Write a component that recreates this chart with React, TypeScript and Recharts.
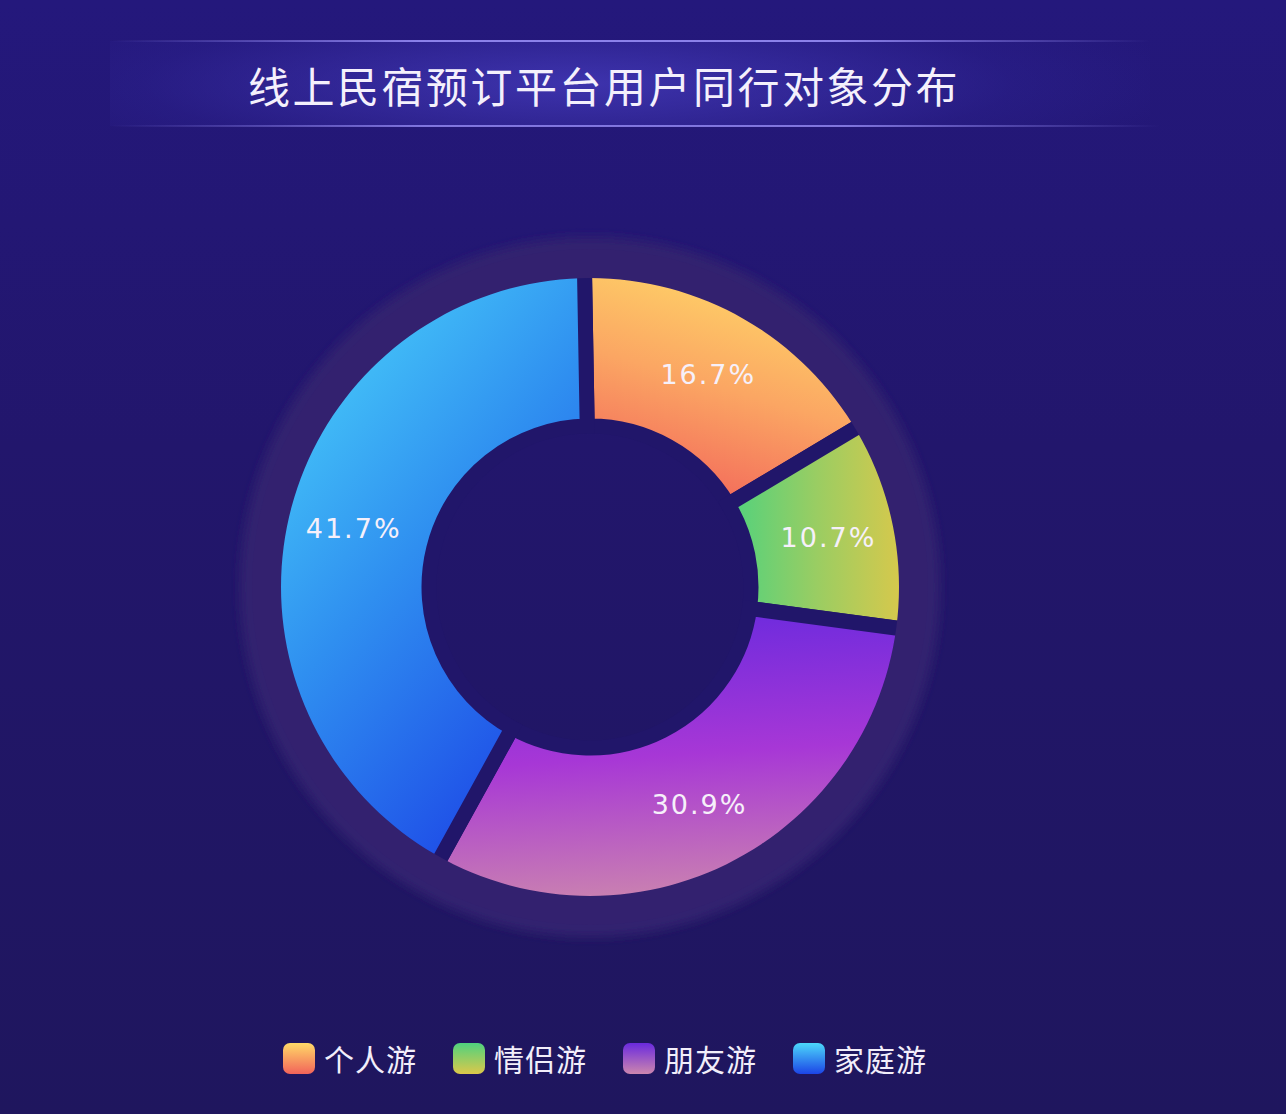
import { Cell, Legend, Pie, PieChart } from "recharts";

const categories = ["个人游", "情侣游", "朋友游", "家庭游"];
const shares = [16.7, 10.7, 30.9, 41.7];
const title = "线上民宿预订平台用户同行对象分布";

const gradients = [
  { id: "g-solo", x1: 0.65, y1: 0, x2: 0.3, y2: 1, stops: ["#ffda68", "#fba663", "#f2635a"] },
  { id: "g-couple", x1: 0, y1: 0.5, x2: 1, y2: 0.5, stops: ["#4fd27e", "#9bcd62", "#dcc84a"] },
  { id: "g-friends", x1: 0.4, y1: 0, x2: 0.5, y2: 1, stops: ["#6a2ade", "#a737d6", "#cc86ae"] },
  { id: "g-family", x1: 0.1, y1: 0, x2: 0.7, y2: 1, stops: ["#4cd8fb", "#2f8ff0", "#1c44e6"] },
];

const BG = "#21166a";
const RING = "#33216f";
const CX = 590;
const CY = 587;

const data = categories.map((name, i) => ({ name, value: shares[i] }));
const ring = [{ name: "ring", value: 1 }];

const RAD = Math.PI / 180;

function renderLabel(props: any) {
  const { innerRadius, outerRadius, midAngle, value } = props;
  const r = (innerRadius + outerRadius) / 2 + 4;
  const x = CX + r * Math.cos(-midAngle * RAD);
  const y = CY + r * Math.sin(-midAngle * RAD);
  return (
    <text
      x={x}
      y={y}
      fill="#f6f0fa"
      fontSize={27}
      fontFamily="DejaVu Sans, sans-serif"
      letterSpacing={2}
      textAnchor="middle"
      dominantBaseline="central"
    >
      {Number(value).toFixed(1)}%
    </text>
  );
}

function LegendContent({ payload }: any) {
  const items = (payload || [])
    .filter((p: any) => categories.includes(p.value))
    .sort((a: any, b: any) => categories.indexOf(a.value) - categories.indexOf(b.value));
  return (
    <div style={{ display: "flex", fontFamily: "'Noto Sans CJK SC', sans-serif" }}>
      {items.map((p: any) => {
        const g = gradients[categories.indexOf(p.value)];
        return (
          <div key={p.value} style={{ display: "flex", alignItems: "center", width: 170 }}>
            <div
              style={{
                width: 32,
                height: 31,
                borderRadius: 7,
                background: `linear-gradient(180deg, ${g.stops[0]}, ${g.stops[2]})`,
                marginRight: 9,
              }}
            />
            <span style={{ color: "#f2eefa", fontSize: 30, letterSpacing: 1 }}>{p.value}</span>
          </div>
        );
      })}
    </div>
  );
}

export default function App() {
  return (
    <div
      style={{
        position: "absolute",
        left: 0,
        top: 0,
        width: 1286,
        height: 1114,
        overflow: "hidden",
        background: "linear-gradient(180deg, #24187c 0%, #22166c 40%, #1f165e 100%)",
      }}
    >
      {/* title band */}
      <div
        style={{
          position: "absolute",
          left: 110,
          top: 41,
          width: 1040,
          height: 85,
          background:
            "radial-gradient(ellipse 60% 120% at 45% 50%, rgba(70,60,190,0.75), rgba(50,40,160,0.25) 70%, rgba(40,30,140,0) 100%)",
        }}
      />
      <div
        style={{
          position: "absolute",
          left: 110,
          top: 40,
          width: 1040,
          height: 2,
          background:
            "linear-gradient(90deg, rgba(140,130,240,0), rgba(150,140,245,0.9) 30%, rgba(150,140,245,0.9) 70%, rgba(140,130,240,0))",
        }}
      />
      <div
        style={{
          position: "absolute",
          left: 110,
          top: 125,
          width: 1050,
          height: 2,
          background:
            "linear-gradient(90deg, rgba(140,130,240,0), rgba(150,140,245,0.8) 30%, rgba(150,140,245,0.8) 70%, rgba(140,130,240,0))",
        }}
      />
      <div
        style={{
          position: "absolute",
          left: 248,
          top: 56,
          color: "#f4f0fc",
          fontSize: 42,
          letterSpacing: 2.5,
          lineHeight: "58px",
          fontFamily: "'Noto Sans CJK SC', sans-serif",
          whiteSpace: "nowrap",
        }}
      >
        {title}
      </div>

      <div style={{ position: "absolute", left: 0, top: 0 }}>
        <PieChart width={1286} height={1114} margin={{ top: 0, right: 0, bottom: 0, left: 0 }}>
          <defs>
            {gradients.map((g) => (
              <linearGradient key={g.id} id={g.id} x1={g.x1} y1={g.y1} x2={g.x2} y2={g.y2}>
                <stop offset="0%" stopColor={g.stops[0]} />
                <stop offset="50%" stopColor={g.stops[1]} />
                <stop offset="100%" stopColor={g.stops[2]} />
              </linearGradient>
            ))}
            <filter id="soft" x="-20%" y="-20%" width="140%" height="140%">
              <feGaussianBlur stdDeviation="5" />
            </filter>
          </defs>
          {/* soft glow behind */}
          <Pie
            data={ring}
            dataKey="value"
            cx={CX}
            cy={CY}
            innerRadius={300}
            outerRadius={350}
            stroke="none"
            fill={RING}
            filter="url(#soft)"
            isAnimationActive={false}
            legendType="none"
          />
          <Pie
            data={data}
            dataKey="value"
            nameKey="name"
            cx={CX}
            cy={CY}
            innerRadius={161}
            outerRadius={318}
            startAngle={91}
            endAngle={-269}
            stroke={BG}
            strokeWidth={15}
            label={renderLabel}
            labelLine={false}
            isAnimationActive={false}
          >
            {data.map((d, i) => (
              <Cell key={d.name} fill={`url(#${gradients[i].id})`} />
            ))}
          </Pie>
          {/* ring band covering the outer stroke of the slices */}
          <Pie
            data={ring}
            dataKey="value"
            cx={CX}
            cy={CY}
            innerRadius={309}
            outerRadius={338}
            stroke="none"
            fill={RING}
            isAnimationActive={false}
            legendType="none"
          />
          <Legend
            content={<LegendContent />}
            wrapperStyle={{ position: "absolute", left: 283, top: 1036, width: 800 }}
          />
        </PieChart>
      </div>
    </div>
  );
}
